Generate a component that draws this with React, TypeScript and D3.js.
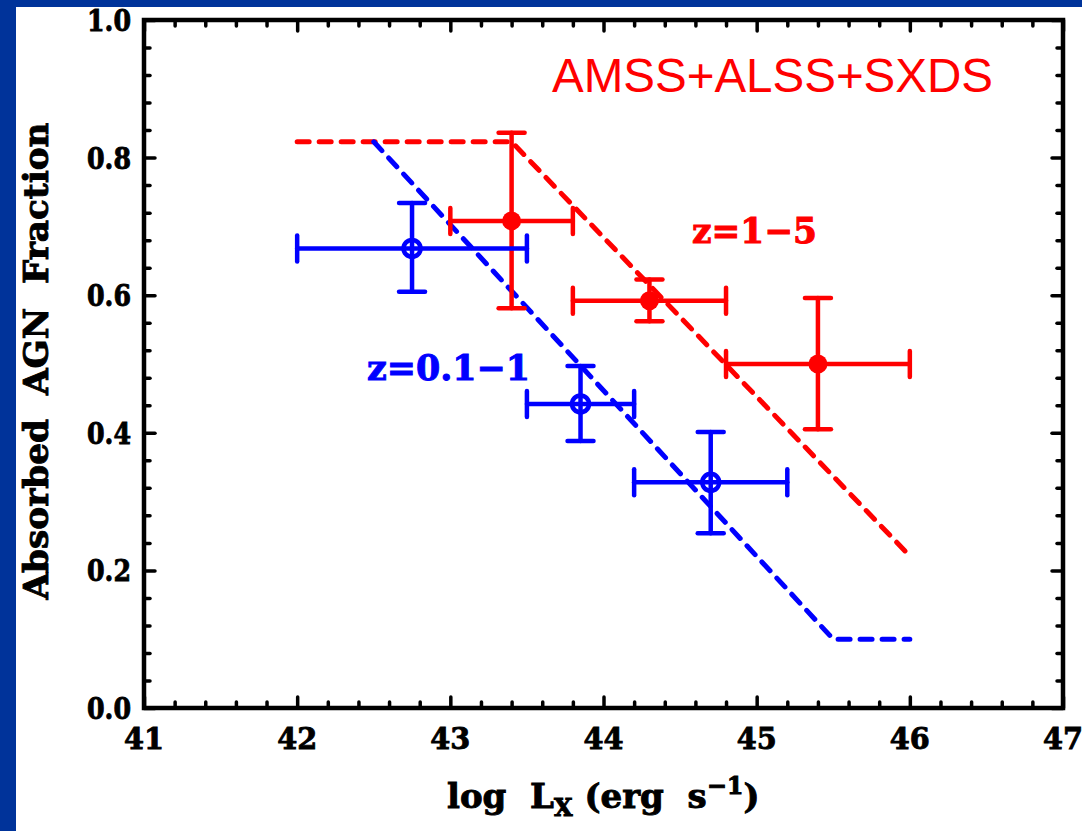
import React, { useEffect, useRef } from "react";
import * as d3 from "d3";

// ---- Data ----
const redX = [43.4, 44.3, 45.4];
const redY = [0.708, 0.592, 0.5];
const redXLo = [43.0, 43.8, 44.8];
const redXHi = [43.8, 44.8, 46.0];
const redYLo = [0.581, 0.562, 0.405];
const redYHi = [0.836, 0.623, 0.596];

const blueX = [42.75, 43.85, 44.7];
const blueY = [0.668, 0.442, 0.328];
const blueXLo = [42.0, 43.5, 44.2];
const blueXHi = [43.5, 44.2, 45.2];
const blueYLo = [0.605, 0.388, 0.254];
const blueYHi = [0.734, 0.497, 0.401];

const redModelX = [42.0, 43.4, 46.0];
const redModelY = [0.823, 0.823, 0.221];
const blueModelX = [42.5, 45.5, 46.0];
const blueModelY = [0.823, 0.1, 0.1];

const xTicks = [41, 42, 43, 44, 45, 46, 47];
const yTicks = [0.0, 0.2, 0.4, 0.6, 0.8, 1.0];

const W = 1082;
const H = 831;
const L = 144, R = 1063, T = 20, B = 708;
const RED = "#ff0000";
const BLUE = "#0000ff";
const FONT = "'DejaVu Serif', serif";

export default function App() {
  const ref = useRef<SVGSVGElement>(null);

  useEffect(() => {
    const svg = d3.select(ref.current);
    svg.selectAll("*").remove();

    const x = d3.scaleLinear().domain([41, 47]).range([L, R]);
    const y = d3.scaleLinear().domain([0, 1]).range([B, T]);

    svg.append("rect").attr("width", W).attr("height", H).attr("fill", "#00339a");
    svg.append("rect").attr("x", 16).attr("y", 7).attr("width", W - 16).attr("height", H - 7).attr("fill", "#ffffff");

    const xMinor = d3.range(41, 47.001, 0.2).filter((v) => Math.abs(v - Math.round(v)) > 1e-6);
    const yMinor = d3.range(0, 1.0001, 0.04).filter((v) => Math.abs(v * 5 - Math.round(v * 5)) > 1e-6);

    const axisStyle = (g: any) => {
      g.select(".domain").remove();
      g.selectAll("line").attr("stroke", "#000").attr("stroke-width", 3.5).attr("stroke-linecap", "round");
      g.selectAll("text").remove();
    };

    svg.append("g").attr("transform", `translate(0,${B})`)
      .call(d3.axisBottom(x).tickValues(xTicks).tickSize(-11)).call(axisStyle);
    svg.append("g").attr("transform", `translate(0,${B})`)
      .call(d3.axisBottom(x).tickValues(xMinor).tickSize(-6)).call(axisStyle);
    svg.append("g").attr("transform", `translate(0,${T})`)
      .call(d3.axisTop(x).tickValues(xTicks).tickSize(-11)).call(axisStyle);
    svg.append("g").attr("transform", `translate(0,${T})`)
      .call(d3.axisTop(x).tickValues(xMinor).tickSize(-6)).call(axisStyle);
    svg.append("g").attr("transform", `translate(${L},0)`)
      .call(d3.axisLeft(y).tickValues(yTicks).tickSize(-11)).call(axisStyle);
    svg.append("g").attr("transform", `translate(${L},0)`)
      .call(d3.axisLeft(y).tickValues(yMinor).tickSize(-6)).call(axisStyle);
    svg.append("g").attr("transform", `translate(${R},0)`)
      .call(d3.axisRight(y).tickValues(yTicks).tickSize(-11)).call(axisStyle);
    svg.append("g").attr("transform", `translate(${R},0)`)
      .call(d3.axisRight(y).tickValues(yMinor).tickSize(-6)).call(axisStyle);

    svg.append("rect").attr("x", L).attr("y", T).attr("width", R - L).attr("height", B - T)
      .attr("fill", "none").attr("stroke", "#000").attr("stroke-width", 4.5);

    // Tick labels
    svg.append("g").selectAll("text").data(xTicks).join("text")
      .attr("x", (d) => x(d)).attr("y", 749)
      .attr("text-anchor", "middle")
      .attr("font-family", FONT).attr("font-weight", "bold").attr("font-size", 30)
      .attr("textLength", 40).attr("lengthAdjust", "spacingAndGlyphs")
      .attr("fill", "#000").attr("stroke", "#000").attr("stroke-width", 0.9)
      .text((d) => String(d));
    svg.append("g").selectAll("text").data(yTicks).join("text")
      .attr("x", 131).attr("y", (d) => y(d) + 11)
      .attr("text-anchor", "end")
      .attr("font-family", FONT).attr("font-weight", "bold").attr("font-size", 30)
      .attr("textLength", 44).attr("lengthAdjust", "spacingAndGlyphs")
      .attr("fill", "#000").attr("stroke", "#000").attr("stroke-width", 0.9)
      .text((d) => d.toFixed(1));

    // Model lines
    const line = d3.line<[number, number]>().x((d) => x(d[0])).y((d) => y(d[1]));
    const drawModel = (xs: number[], ys: number[], color: string) => {
      svg.append("path")
        .attr("d", line(xs.map((v, i) => [v, ys[i]] as [number, number])) as string)
        .attr("fill", "none").attr("stroke", color).attr("stroke-width", 5)
        .attr("stroke-dasharray", "12,10").attr("stroke-linecap", "round").attr("stroke-linejoin", "round");
    };
    drawModel(redModelX, redModelY, RED);
    drawModel(blueModelX, blueModelY, BLUE);

    // Error bars
    const cap = 13;
    const drawErr = (
      xs: number[], ys: number[], xl: number[], xh: number[], yl: number[], yh: number[],
      color: string, filled: boolean
    ) => {
      const g = svg.append("g").attr("stroke", color).attr("stroke-width", 4.5).attr("stroke-linecap", "round");
      xs.forEach((xv, i) => {
        const cx = x(xv), cy = y(ys[i]);
        g.append("line").attr("x1", x(xl[i])).attr("x2", x(xh[i])).attr("y1", cy).attr("y2", cy);
        g.append("line").attr("x1", x(xl[i])).attr("x2", x(xl[i])).attr("y1", cy - cap).attr("y2", cy + cap);
        g.append("line").attr("x1", x(xh[i])).attr("x2", x(xh[i])).attr("y1", cy - cap).attr("y2", cy + cap);
        g.append("line").attr("x1", cx).attr("x2", cx).attr("y1", y(yl[i])).attr("y2", y(yh[i]));
        g.append("line").attr("x1", cx - cap).attr("x2", cx + cap).attr("y1", y(yl[i])).attr("y2", y(yl[i]));
        g.append("line").attr("x1", cx - cap).attr("x2", cx + cap).attr("y1", y(yh[i])).attr("y2", y(yh[i]));
        if (filled) {
          g.append("circle").attr("cx", cx).attr("cy", cy).attr("r", 9.5).attr("fill", color).attr("stroke", "none");
        } else {
          g.append("circle").attr("cx", cx).attr("cy", cy).attr("r", 8.5).attr("fill", "none").attr("stroke-width", 4.5);
        }
      });
    };
    drawErr(redX, redY, redXLo, redXHi, redYLo, redYHi, RED, true);
    drawErr(blueX, blueY, blueXLo, blueXHi, blueYLo, blueYHi, BLUE, false);

    // Annotations
    svg.append("text").attr("x", 552).attr("y", 92)
      .attr("font-family", "'Liberation Sans', Arial, sans-serif").attr("font-size", 48)
      .attr("textLength", 441).attr("lengthAdjust", "spacingAndGlyphs")
      .attr("fill", RED).text("AMSS+ALSS+SXDS");
    svg.append("text").attr("x", 692).attr("y", 243)
      .attr("font-family", FONT).attr("font-weight", "bold").attr("font-size", 36)
      .attr("textLength", 125).attr("lengthAdjust", "spacingAndGlyphs")
      .attr("fill", RED).attr("stroke", RED).attr("stroke-width", 1)
      .text("z=1\u22125");
    svg.append("text").attr("x", 367).attr("y", 380)
      .attr("font-family", FONT).attr("font-weight", "bold").attr("font-size", 36)
      .attr("textLength", 163).attr("lengthAdjust", "spacingAndGlyphs")
      .attr("fill", BLUE).attr("stroke", BLUE).attr("stroke-width", 1)
      .text("z=0.1\u22121");

    // Axis titles
    const xt = svg.append("text").attr("x", 447).attr("y", 808)
      .attr("font-family", FONT).attr("font-weight", "bold").attr("font-size", 34).attr("fill", "#000")
      .attr("stroke", "#000").attr("stroke-width", 0.9)
      .style("white-space", "pre");
    xt.append("tspan").text("log  L");
    xt.append("tspan").attr("font-size", 24).attr("dy", 8).text("X");
    xt.append("tspan").attr("dy", -8).text(" (erg  s");
    xt.append("tspan").attr("font-size", 24).attr("dy", -14).text("\u22121");
    xt.append("tspan").attr("dy", 14).text(")");

    svg.append("text")
      .attr("transform", `translate(48,361) rotate(-90)`)
      .attr("text-anchor", "middle")
      .attr("font-family", FONT).attr("font-weight", "bold").attr("font-size", 33)
      .attr("textLength", 477).attr("lengthAdjust", "spacingAndGlyphs")
      .attr("fill", "#000").attr("stroke", "#000").attr("stroke-width", 0.9)
      .style("white-space", "pre")
      .text("Absorbed  AGN  Fraction");
  }, []);

  return (
    <svg ref={ref} width={W} height={H} style={{ position: "absolute", left: 0, top: 0, display: "block" }} />
  );
}
